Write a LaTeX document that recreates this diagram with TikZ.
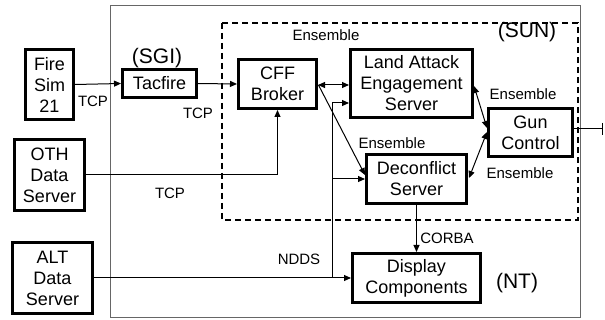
\documentclass[tikz,border=0pt]{standalone}
\usepackage{fontspec}
\setmainfont{Liberation Sans}
\usetikzlibrary{arrows.meta}
\begin{document}
\begin{tikzpicture}[x=1pt,y=-1pt,
  box/.style={draw,line width=3pt,align=center,inner sep=0pt,font=\fontsize{18}{21}\selectfont},
  lbl/.style={font=\fontsize{15}{17}\selectfont,inner sep=0pt},
  big/.style={font=\fontsize{21}{24}\selectfont,inner sep=0pt},
  conn/.style={line width=1pt},
  tipend/.style={-{Triangle[length=7pt,width=6pt]}},
  tipboth/.style={{Triangle[length=7pt,width=6pt]}-{Triangle[length=7pt,width=6pt]}},
  barend/.style={-{Bar[width=12pt,line width=1pt]}}
]
\useasboundingbox (0,0) rectangle (605,320);
% frames
\draw[black!60,line width=1pt] (110,6) rectangle (580,318);
\draw[line width=2pt,dash pattern=on 6pt off 4pt] (222,23) rectangle (578,220);

% nodes
\node[box,minimum width=48,minimum height=70] (fs) at (49.5,84.5) {Fire\\Sim\\21};
\node[box,minimum width=74,minimum height=28] (tf) at (159.5,83.5) {Tacfire};
\node[box,minimum width=78,minimum height=49] (cff) at (277.5,84) {CFF\\Broker};
\node[box,minimum width=70,minimum height=71] (oth) at (49.5,175) {OTH\\Data\\Server};
\node[box,minimum width=80,minimum height=71] (alt) at (52.5,278) {ALT\\Data\\Server};
\node[box,minimum width=122,minimum height=68] (lae) at (411.5,83.5) {Land Attack\\Engagement\\Server};
\node[box,minimum width=100,minimum height=49] (ds) at (416.5,179) {Deconflict\\Server};
\node[box,minimum width=84,minimum height=48] (gun) at (530.5,132.5) {Gun\\Control};
\node[box,minimum width=128,minimum height=49] (disp) at (416.5,278) {Display\\Components};

% labels
\node[big] (sgi) at (157,58) {(SGI)};
\node[big] (sun) at (527,32) {(SUN)};
\node[big] (nt) at (517,283) {(NT)};
\node[lbl] (tcp1) at (93,101) {TCP};
\node[lbl] (tcp2) at (198,113) {TCP};
\node[lbl] (tcp3) at (170,193) {TCP};
\node[lbl] (ndds) at (299,259) {NDDS};
\node[lbl] (ens1) at (326,35) {Ensemble};
\node[lbl] (ens2) at (392,143) {Ensemble};
\node[lbl] (ens3) at (523,94) {Ensemble};
\node[lbl] (ens4) at (520,173) {Ensemble};
\node[lbl] (corba) at (447,238) {CORBA};

% helper coordinates
\coordinate (j1) at (332,278);
\coordinate (j2) at (332,103);
\coordinate (j3) at (332,179);
\coordinate (cffout) at (318.5,85);
\coordinate (dsin) at (365,175);
\coordinate (laeout) at (474,86);
\coordinate (gunin1) at (487,128);
\coordinate (gunin2) at (487,132);
\coordinate (dsout) at (469,178);
\coordinate (gunout) at (574,129);
\coordinate (outend) at (603,129);

% connectors
\draw[conn,tipend] (fs.east) -- (tf.west);
\draw[conn,tipend] (tf.east) -- (cff.west);
\draw[conn,tipend] (oth.east) -| (cff.south);
\draw[conn,tipend] (alt.east) -- (disp.west);
\draw[conn,tipend] (j1) -- (j2) -- (lae.west |- j2);
\draw[conn,tipend] (j3) -- (ds.west);
\draw[conn,tipboth] (cff.east |- cffout) -- (lae.west |- cffout);
\draw[conn,tipend] (cffout) -- (dsin);
\draw[conn,tipboth] (laeout) -- (gunin1);
\draw[conn,tipboth] (dsout) -- (gunin2);
\draw[conn,tipend] (ds.south) -- (disp.north);
\draw[conn,barend] (gunout) -- (outend);
\end{tikzpicture}
\end{document}
